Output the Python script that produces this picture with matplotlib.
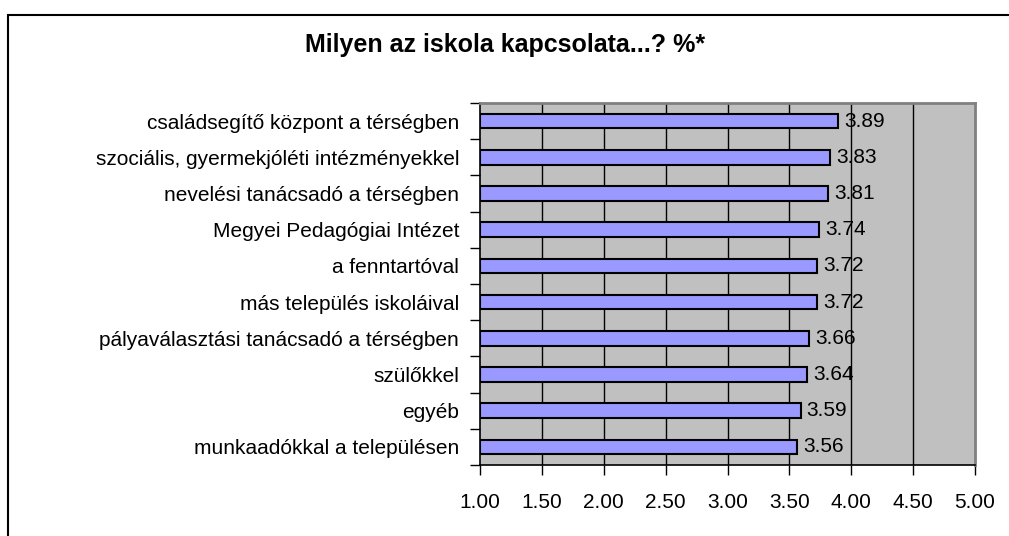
import matplotlib
matplotlib.use("Agg")
import matplotlib.pyplot as plt
from matplotlib.patches import Rectangle
import numpy as np

categories = [
    "családsegítő központ a térségben",
    "szociális, gyermekjóléti intézményekkel",
    "nevelési tanácsadó a térségben",
    "Megyei Pedagógiai Intézet",
    "a fenntartóval",
    "más település iskoláival",
    "pályaválasztási tanácsadó a térségben",
    "szülőkkel",
    "egyéb",
    "munkaadókkal a településen",
]
values = [3.89, 3.83, 3.81, 3.74, 3.72, 3.72, 3.66, 3.64, 3.59, 3.56]
xticks = [1.0, 1.5, 2.0, 2.5, 3.0, 3.5, 4.0, 4.5, 5.0]
title = "Milyen az iskola kapcsolata...? %*"

plt.rcParams['font.family'] = ['Liberation Sans', 'DejaVu Sans']

W, H = 1009, 536
fig = plt.figure(figsize=(W / 100, H / 100), dpi=100)
fig.patch.set_facecolor('white')

# outer border (cropped at right and bottom)
fig.patches.append(Rectangle((8 / W, -0.1), 1.2, 1 - 15 / H + 0.1,
                             transform=fig.transFigure, fill=False,
                             edgecolor='black', linewidth=1.5))

left, right, top, bottom = 480, 975, 103, 465
ax = fig.add_axes([left / W, 1 - bottom / H, (right - left) / W, (bottom - top) / H])
ax.set_facecolor('#C0C0C0')

FS = 15
n = len(categories)
y = np.arange(n)
ax.barh(y, [v - 1.0 for v in values], left=1.0, height=0.4,
        color='#9999FF', edgecolor='black', linewidth=1.5, zorder=3)

for yi, v in zip(y, values):
    ax.text(v + 0.05, yi, f"{v:.2f}", va='center', ha='left', fontsize=FS, zorder=4)

ax.set_xlim(1.0, 5.0)
ax.set_ylim(n - 0.5, -0.5)
ax.set_xticks(xticks)
ax.set_xticklabels([f"{t:.2f}" for t in xticks], fontsize=FS)
for gx in xticks[1:-1]:
    ax.axvline(gx, color='black', linewidth=1.0, zorder=1)

ax.set_yticks(np.arange(-0.5, n, 1.0), minor=False)
ax.set_yticklabels([])
ax.set_yticks(y, minor=True)
ax.set_yticklabels(categories, minor=True, fontsize=FS)
ax.tick_params(axis='y', which='minor', length=0, pad=15)
ax.tick_params(axis='y', which='major', length=7, width=1, direction='out')
ax.tick_params(axis='x', length=7, width=1, direction='out', pad=13)

for s in ['left', 'bottom']:
    ax.spines[s].set_color('black')
    ax.spines[s].set_linewidth(1.2)
for s in ['top', 'right']:
    ax.spines[s].set_color('#808080')
    ax.spines[s].set_linewidth(2)

fig.text(505 / W, 1 - 45 / H, title, ha='center', va='center',
         fontsize=18, fontweight='bold')

fig.savefig("out.png", dpi=100)
